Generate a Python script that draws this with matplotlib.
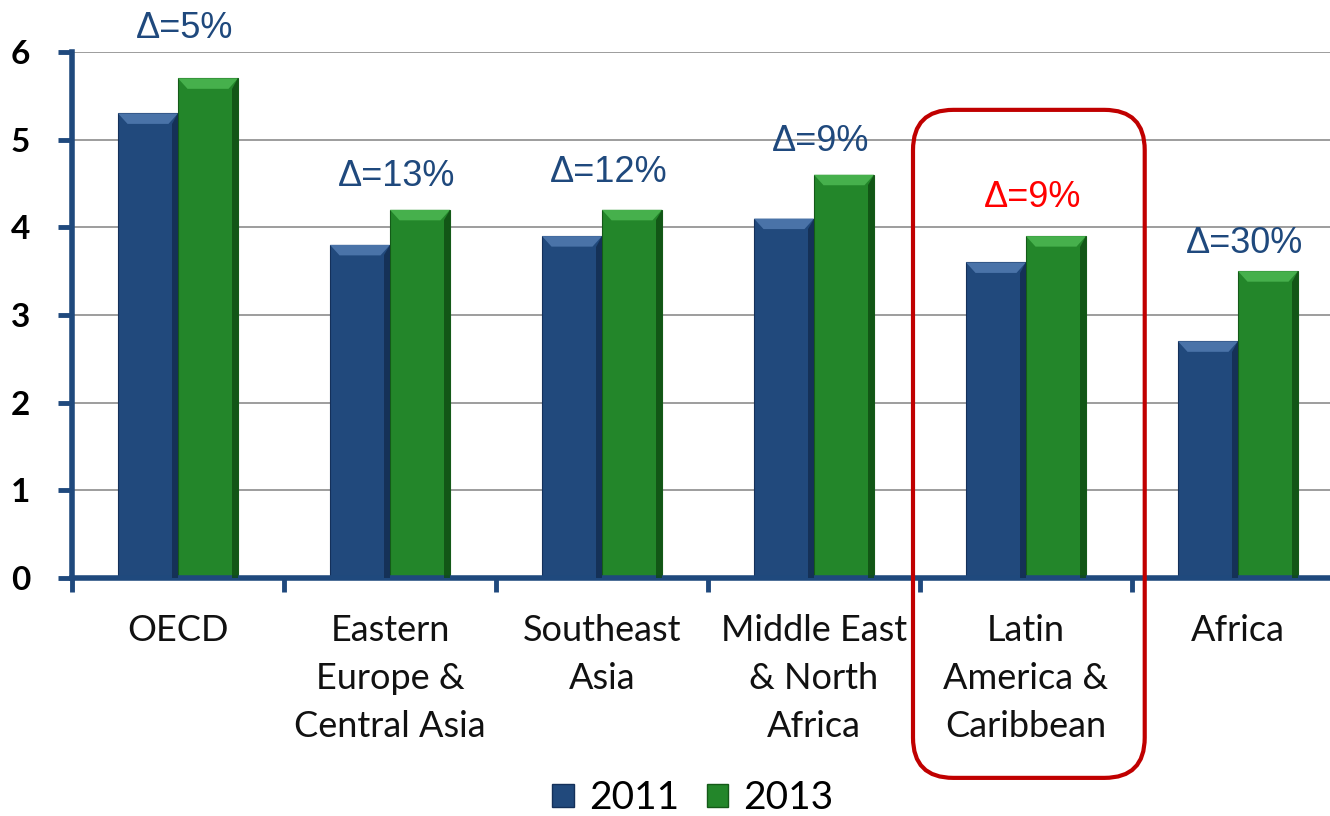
import matplotlib.pyplot as plt
import numpy as np
from matplotlib.patches import FancyBboxPatch, Patch, Polygon

regions = ['OECD', 'Eastern\nEurope &\nCentral Asia', 'Southeast\nAsia',
           'Middle East\n& North\nAfrica', 'Latin\nAmerica &\nCaribbean', 'Africa']
vals_2011 = [5.3, 3.8, 3.9, 4.1, 3.6, 2.7]
vals_2013 = [5.7, 4.2, 4.2, 4.6, 3.9, 3.5]
deltas = ['Δ=5%', 'Δ=13%', 'Δ=12%', 'Δ=9%', 'Δ=9%', 'Δ=30%']
highlight = 4  # Latin America

# label spacing above green bar (points), tuned by eye
delta_pad = [36, 24, 27, 24, 28, 20]

BLUE = '#21497C'
GREEN = '#23862A'
AXIS = '#1F497D'


def bevel(ax, bar, light, dark):
    # fake the office-style bevel: light top strip + dark right edge
    x0, y0 = bar.get_x(), bar.get_y()
    w, h = bar.get_width(), bar.get_height()
    x1, y1 = x0 + w, y0 + h
    dx, dy = 0.045, 0.12
    top = Polygon([(x0, y1), (x1, y1), (x1 - dx, y1 - dy), (x0 + dx, y1 - dy)],
                  closed=True, facecolor=light, edgecolor='none', zorder=3)
    right = Polygon([(x1, y1), (x1, y0), (x1 - dx * 0.6, y0), (x1 - dx * 0.6, y1 - dy)],
                    closed=True, facecolor=dark, edgecolor='none', zorder=3, alpha=0.8)
    ax.add_patch(top)
    ax.add_patch(right)


fig = plt.figure(figsize=(13.3, 8.16), dpi=100)
ax = fig.add_axes([72 / 1330, 1 - 578 / 816, 1272 / 1330, 526 / 816])

x = np.arange(len(regions))
w = 0.283
b1 = ax.bar(x - w / 2, vals_2011, w, color=BLUE, edgecolor='#14305A', linewidth=0.8, zorder=2)
b2 = ax.bar(x + w / 2, vals_2013, w, color=GREEN, edgecolor='#145A18', linewidth=0.8, zorder=2)
for bar in b1:
    bevel(ax, bar, '#4A73A8', '#122C4E')
for bar in b2:
    bevel(ax, bar, '#46B04C', '#0E4A12')

for i, (v, d) in enumerate(zip(vals_2013, deltas)):
    col = 'red' if i == highlight else AXIS
    ax.annotate(d, (x[i] + 0.03, v), xytext=(0, delta_pad[i]), textcoords='offset points',
                ha='center', va='center', fontsize=26, color=col,
                family='Liberation Sans', annotation_clip=False)

ax.set_xlim(-0.5, len(regions) - 0.5)
ax.set_ylim(0, 6)
ax.set_yticks(range(7))
ax.set_yticklabels([str(i) for i in range(7)], fontsize=24, fontweight='bold', family='Lato')
ax.yaxis.grid(True, color='#8C8C8C', linewidth=1.2)
ax.set_axisbelow(True)

ax.set_xticks(x)
ax.set_xticklabels(regions, fontsize=26, family='Lato', color='#111111', linespacing=1.55,
                   va='top')
ax.tick_params(axis='x', length=0, pad=26)
ax.set_xticks(np.arange(-0.5, len(regions) + 0.5, 1), minor=True)
ax.tick_params(axis='x', which='minor', length=10, width=3.5, color=AXIS, direction='out')
ax.tick_params(axis='y', length=10, width=3.5, color=AXIS, pad=20)

for s in ['top', 'right']:
    ax.spines[s].set_visible(False)
for s in ['left', 'bottom']:
    ax.spines[s].set_linewidth(4)
    ax.spines[s].set_color(AXIS)

# red rounded box around Latin America
asp = (1272 / 6) / (526 / 6)
box = FancyBboxPatch((highlight - 0.533, -2.28), 1.093, 7.62,
                     boxstyle='round,pad=0,rounding_size=0.19', mutation_aspect=asp,
                     facecolor='none', edgecolor='#C00000', linewidth=3,
                     clip_on=False, zorder=5)
ax.add_patch(box)

handles = [Patch(facecolor=BLUE, edgecolor='#14305A', label='2011'),
           Patch(facecolor=GREEN, edgecolor='#145A18', label='2013')]
fig.legend(handles=handles, loc='center', bbox_to_anchor=(693 / 1330, 1 - 798 / 816),
           ncol=2, frameon=False, handlelength=0.55, handleheight=0.55,
           handletextpad=0.4, columnspacing=0.7, prop={'family': 'Lato', 'size': 28})

fig.savefig('out.png', dpi=100)
